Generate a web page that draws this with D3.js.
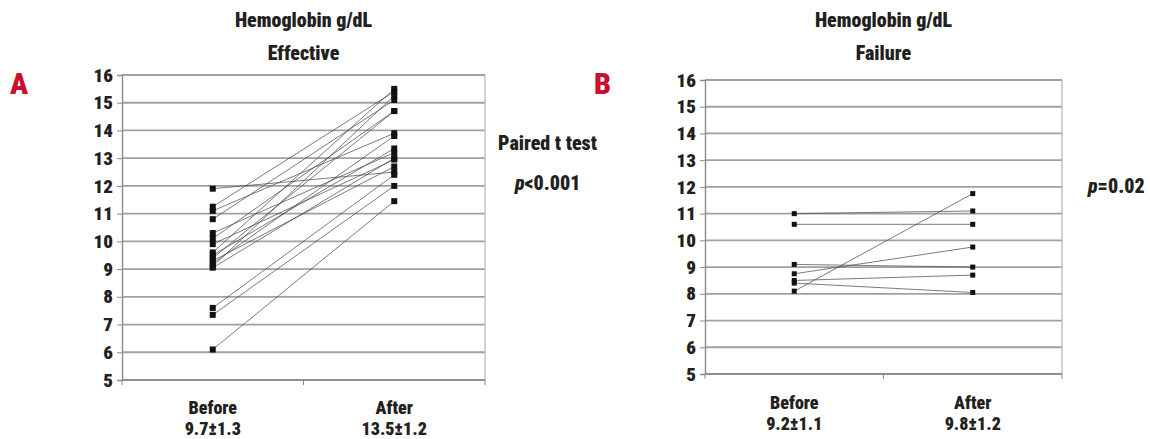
<!DOCTYPE html>
<html>
<head>
<meta charset="utf-8">
<script src="https://cdn.jsdelivr.net/npm/d3@7"></script>
<style>
  body { margin: 0; background: #fff; }
  svg text { font-family: "Liberation Sans Narrow", "Arial Narrow", "Roboto Condensed", Roboto, sans-serif; font-weight: 900; fill: #231f20; }
</style>
</head>
<body>
<div id="chart"></div>
<script>
// categories and tick values
const groups = ["Before", "After"];
const yTicks = [5, 6, 7, 8, 9, 10, 11, 12, 13, 14, 15, 16];

// panel A: effective (paired values, before -> after)
const effBefore = [11.9, 11.25, 11.1, 10.8, 10.3, 10.1, 9.9, 9.6, 9.5, 9.4, 9.3, 9.2, 9.1, 9.05, 7.6, 7.35, 6.1];
const effAfter  = [12.5, 15.4, 13.9, 15.1, 13.2, 14.7, 12.95, 15.5, 13.35, 14.7, 12.7, 13.8, 15.25, 13.0, 12.4, 12.0, 11.45];
const effStats  = ["9.7±1.3", "13.5±1.2"];

// panel B: failure
const failBefore = [11.0, 10.6, 9.1, 8.75, 8.5, 8.4, 8.1];
const failAfter  = [11.1, 10.6, 9.0, 9.75, 8.7, 8.05, 11.75];
const failStats  = ["9.2±1.1", "9.8±1.2"];

const svg = d3.select("#chart").append("svg")
  .attr("width", 1150)
  .attr("height", 439);

function makePanel(cfg) {
  const x = d3.scaleBand().domain(groups).range([cfg.left, cfg.right]);
  const y = d3.scaleLinear().domain([5, 16]).range([cfg.bottom, cfg.top]);
  const g = svg.append("g");

  // gridlines
  g.append("g").selectAll("line")
    .data(yTicks)
    .enter().append("line")
    .attr("x1", cfg.left).attr("x2", cfg.right)
    .attr("y1", d => y(d)).attr("y2", d => y(d))
    .attr("stroke", "#a0a0a0")
    .attr("stroke-width", 1.8);

  // right border
  g.append("line")
    .attr("x1", cfg.right).attr("x2", cfg.right)
    .attr("y1", cfg.top).attr("y2", cfg.bottom)
    .attr("stroke", "#b5b5b5").attr("stroke-width", 1.2);

  // y axis
  const yAxis = d3.axisLeft(y).tickValues(yTicks).tickSize(5).tickPadding(4);
  const ya = g.append("g")
    .attr("transform", "translate(" + cfg.left + ",0)")
    .call(yAxis);
  ya.select(".domain").attr("stroke", "#8a8a8a").attr("stroke-width", 1.4);
  ya.selectAll(".tick line").attr("stroke", "#8a8a8a");
  ya.selectAll("text")
    .style("font-size", "19px")
    .attr("fill", "#231f20");

  // x axis with ticks at category boundaries
  const bounds = [cfg.left, (cfg.left + cfg.right) / 2, cfg.right];
  g.append("line")
    .attr("x1", cfg.left).attr("x2", cfg.right)
    .attr("y1", cfg.bottom).attr("y2", cfg.bottom)
    .attr("stroke", "#8a8a8a").attr("stroke-width", 1.4);
  g.append("g").selectAll("line")
    .data(bounds)
    .enter().append("line")
    .attr("x1", d => d).attr("x2", d => d)
    .attr("y1", cfg.bottom).attr("y2", cfg.bottom + 5)
    .attr("stroke", "#8a8a8a");

  const cx = d => x(d) + x.bandwidth() / 2;
  const pairs = cfg.before.map((b, i) => ({ b: b, a: cfg.after[i] }));

  // paired lines
  g.append("g").selectAll("line")
    .data(pairs)
    .enter().append("line")
    .attr("x1", cx("Before")).attr("x2", cx("After"))
    .attr("y1", d => y(d.b)).attr("y2", d => y(d.a))
    .attr("stroke", "#4a4a4a")
    .attr("stroke-width", 0.9)
    .attr("opacity", 0.8);

  // markers
  const ms = cfg.marker;
  g.append("g").selectAll("rect")
    .data(cfg.before)
    .enter().append("rect")
    .attr("x", cx("Before") - ms / 2)
    .attr("y", d => y(d) - ms / 2)
    .attr("width", ms).attr("height", ms)
    .attr("fill", "#111");
  g.append("g").selectAll("rect")
    .data(cfg.after)
    .enter().append("rect")
    .attr("x", cx("After") - ms / 2)
    .attr("y", d => y(d) - ms / 2)
    .attr("width", ms).attr("height", ms)
    .attr("fill", "#111");

  // titles
  const mid = (cfg.left + cfg.right) / 2;
  g.append("text").attr("x", mid).attr("y", 27)
    .attr("text-anchor", "middle").style("font-size", "20px")
    .text("Hemoglobin g/dL");
  g.append("text").attr("x", mid).attr("y", 60)
    .attr("text-anchor", "middle").style("font-size", "20px")
    .text(cfg.title);

  // panel letter
  g.append("text").attr("x", cfg.letterX).attr("y", 94)
    .style("font-size", "30px")
    .style("fill", "#c8102e")
    .text(cfg.letter);

  // category labels
  groups.forEach(function(k, i) {
    g.append("text").attr("x", cx(k)).attr("y", cfg.labelY)
      .attr("text-anchor", "middle").style("font-size", "18px")
      .text(k);
    g.append("text").attr("x", cx(k)).attr("y", cfg.labelY + 21)
      .attr("text-anchor", "middle").style("font-size", "18px")
      .text(cfg.stats[i]);
  });
  return g;
}

makePanel({
  left: 122, right: 485, top: 75, bottom: 380,
  before: effBefore, after: effAfter, stats: effStats,
  title: "Effective", letter: "A", letterX: 10, labelY: 414, marker: 6
});

makePanel({
  left: 705, right: 1062, top: 80, bottom: 374,
  before: failBefore, after: failAfter, stats: failStats,
  title: "Failure", letter: "B", letterX: 594, labelY: 409, marker: 5
});

// statistics annotations
svg.append("text").attr("x", 498).attr("y", 150)
  .style("font-size", "20px").text("Paired t test");
const pA = svg.append("text").attr("x", 515).attr("y", 190).style("font-size", "20px");
pA.append("tspan").style("font-style", "italic").text("p");
pA.append("tspan").text("<0.001");

const pB = svg.append("text").attr("x", 1088).attr("y", 193).style("font-size", "20px");
pB.append("tspan").style("font-style", "italic").text("p");
pB.append("tspan").text("=0.02");
</script>
</body>
</html>
